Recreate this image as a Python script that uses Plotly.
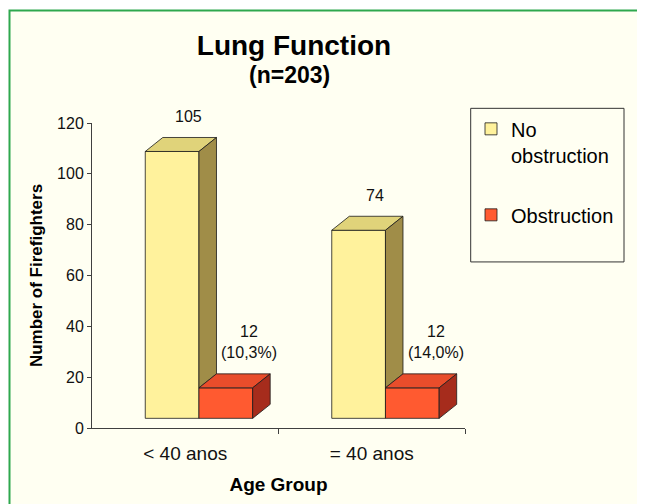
import plotly.graph_objects as go

# ---- data ----
categories = ["< 40 anos", "= 40 anos"]
no_obstruction = [105, 74]
obstruction = [12, 12]
obstruction_pct = ["10,3%", "14,0%"]
y_ticks = [0, 20, 40, 60, 80, 100, 120]

# ---- style / geometry constants ----
CREAM = "#FFFFF2"
GREEN = "#2EA84E"
Y_FRONT, Y_TOP, Y_SIDE = "#FFF29C", "#E0D37A", "#A08D48"
R_FRONT, R_TOP, R_SIDE = "#FF5A30", "#E94D2B", "#A62C1C"
EDGE = "#1a1a1a"
BASE = 3.8          # floor offset of the 3-D bars (value units)
W = 0.288           # bar width (category units)
OFF_Y, OFF_R = -0.2145, 0.0735
DX, DY = 0.094, 5.5  # depth offset (category units, value units)
Y_MIN, Y_MAX = y_ticks[0], y_ticks[-1]
X_MIN, X_MAX = -0.5, len(categories) - 0.5

# page has an 8px body margin; figure is drawn 8px in from the window edge
PAGE = 8
FW, FH = 645 - PAGE, 504 - PAGE

# window-pixel -> paper helpers for layout decorations
PX0, PX1 = 92, 465
PY0, PY1 = 428.5, 122.7
def px(x):
    return (x - PX0) / (PX1 - PX0)
def py(y):
    return (PY0 - y) / (PY0 - PY1)

fig = go.Figure()

xs = list(range(len(categories)))

fig.add_trace(go.Bar(x=xs, y=no_obstruction, base=BASE, width=W, offset=OFF_Y,
                     marker=dict(color=Y_FRONT, line=dict(color=EDGE, width=0.8)),
                     name="No<br>obstruction", legendgroup="a"))
fig.add_trace(go.Bar(x=xs, y=obstruction, base=BASE, width=W, offset=OFF_R,
                     marker=dict(color=R_FRONT, line=dict(color=EDGE, width=0.8)),
                     name="Obstruction", legendgroup="b"))

def face(xpts, ypts, color):
    fig.add_trace(go.Scatter(x=xpts + [xpts[0]], y=ypts + [ypts[0]], mode="lines",
                             fill="toself", fillcolor=color,
                             line=dict(color=EDGE, width=0.8),
                             showlegend=False, hoverinfo="skip"))

for i, (a, b) in enumerate(zip(no_obstruction, obstruction)):
    # yellow bar
    xl, xr = i + OFF_Y, i + OFF_Y + W
    top = BASE + a
    rtop = BASE + b
    face([xl, xl + DX, xr + DX, xr], [top, top + DY, top + DY, top], Y_TOP)
    face([xr, xr + DX, xr + DX, xr], [rtop, rtop + DY, top + DY, top], Y_SIDE)
    # red bar
    xl2, xr2 = i + OFF_R, i + OFF_R + W
    face([xl2, xl2 + DX, xr2 + DX, xr2], [rtop, rtop + DY, rtop + DY, rtop], R_TOP)
    face([xr2, xr2 + DX, xr2 + DX, xr2], [BASE, BASE + DY, rtop + DY, rtop], R_SIDE)

    # value labels (y in axis-domain fraction so labels above 120 stay visible)
    fig.add_annotation(x=i + 0.02, xref="x", yref="y domain",
                       y=(top + DY + 8.2 - Y_MIN) / (Y_MAX - Y_MIN),
                       text=str(a), showarrow=False, yanchor="middle",
                       font=dict(size=16, color="#111"))
    fig.add_annotation(x=i + 0.343, xref="x", yref="y domain",
                       y=(rtop + DY + 12.4 - Y_MIN) / (Y_MAX - Y_MIN),
                       text=f"{b}<br>({obstruction_pct[i]})", showarrow=False,
                       yanchor="middle", font=dict(size=16, color="#111"))

fig.add_annotation(xref="paper", yref="paper", x=px(289.5), y=py(74.7),
                   text="<b>(n=203)</b>", showarrow=False,
                   font=dict(size=23, color="#000"), yanchor="middle")

shapes = [
    dict(type="rect", xref="paper", yref="paper", layer="below",
         x0=px(9.5), x1=px(720), y0=py(10), y1=py(600),
         line=dict(color=GREEN, width=2), fillcolor=CREAM),
    dict(type="rect", xref="paper", yref="paper",
         x0=px(470.7), x1=px(624), y0=py(262), y1=py(108),
         line=dict(color="#333", width=1), fillcolor="rgba(0,0,0,0)"),
]

fig.update_layout(
    width=FW, height=FH,
    margin=dict(l=PX0 - PAGE, r=645 - PX1, t=123 - PAGE, b=76, pad=0),
    paper_bgcolor="white", plot_bgcolor=CREAM,
    font=dict(family="Arial, Liberation Sans, sans-serif", color="#111"),
    title=dict(text="<b>Lung Function</b>", font=dict(size=28, color="#000"),
               x=(294 - PAGE) / FW, xref="container", xanchor="center",
               y=1 - (45 - PAGE) / FH, yref="container", yanchor="middle"),
    shapes=shapes,
    showlegend=True,
    legend=dict(x=px(471), y=py(109), xanchor="left", yanchor="top",
                font=dict(size=20, color="#000"), bgcolor="rgba(0,0,0,0)",
                borderwidth=0, traceorder="grouped", tracegroupgap=31,
                valign="top"),
    barmode="overlay",
    xaxis=dict(range=[X_MIN, X_MAX], tickvals=xs, ticktext=categories,
               ticks="", showgrid=False, zeroline=False,
               showline=True, linecolor="#404040", linewidth=1,
               tickfont=dict(size=19, color="#111"), ticklabelstandoff=8,
               minor=dict(tickvals=[0.5, 1.5], ticks="outside", ticklen=5,
                          tickcolor="#404040", showgrid=False),
               title=dict(text="<b>Age Group</b>", font=dict(size=19, color="#000"),
                          standoff=14)),
    yaxis=dict(range=[Y_MIN, Y_MAX], tickvals=y_ticks, ticks="outside", ticklen=4,
               tickcolor="#404040", showgrid=False, zeroline=False,
               showline=True, linecolor="#404040", linewidth=1,
               tickfont=dict(size=16, color="#111"),
               title=dict(text="<b>Number of Firefighters</b>",
                          font=dict(size=17, color="#000"), standoff=10)),
)

fig.write_html("out.html")
